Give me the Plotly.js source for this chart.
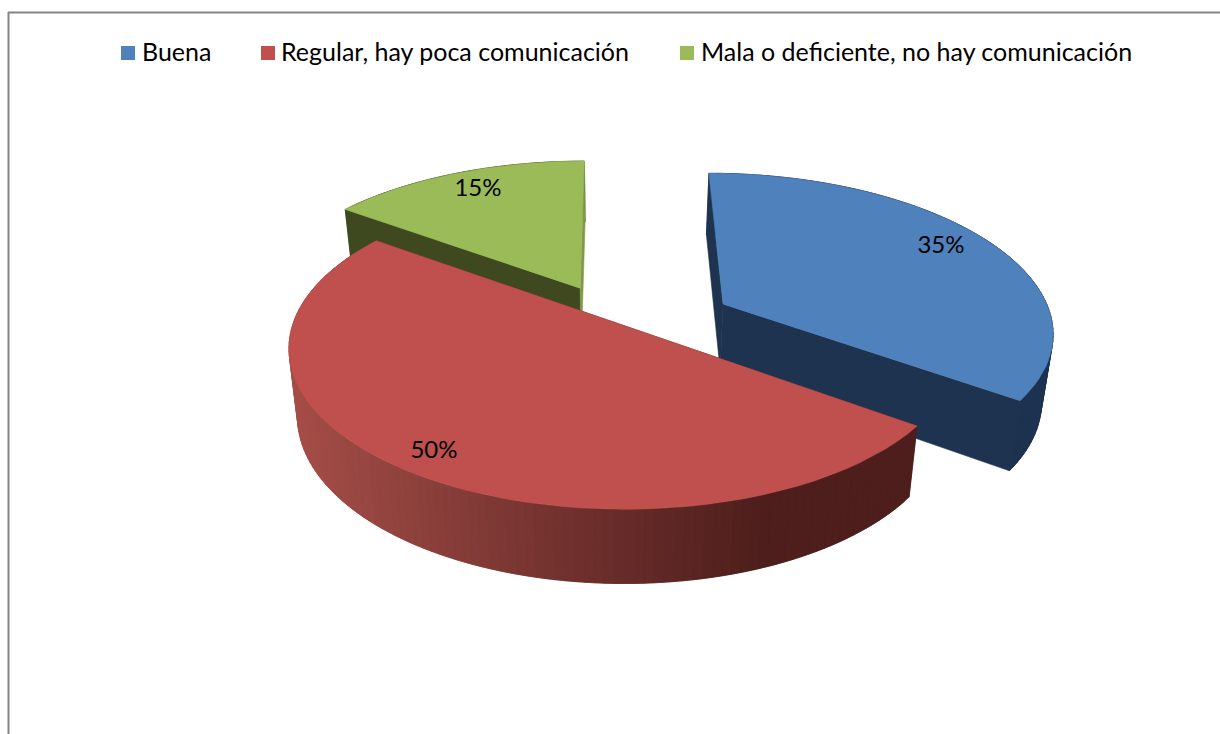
<!DOCTYPE html>
<html><head><meta charset="utf-8">
<script src="https://cdn.plot.ly/plotly-3.0.1.min.js"></script>
<style>html,body{margin:0;padding:0;background:#fff}#c{width:1220px;height:734px}</style>
</head><body><div id="c"></div>
<script>
// --- data ---
var categories = ['Buena', 'Regular, hay poca comunicación', 'Mala o deficiente, no hay comunicación'];
var values = [35, 50, 15];
var colors = ['#4f81bd', '#c0504d', '#9bbb59'];
var sideColors = ['#1d3350', '#4d1e1c', '#3f4920'];
// --- style / camera of the fake 3D pie ---
var sliceOffsetX = [0.34, 0.03, -0.103];
var sliceOffsetY = [0.13, -0.008, 0.238];
var cam = {cx: 613, cy: 324, sx: 330, sy: 156, sz: 69, k: 0.15, m: 0.027};
var labelX = [941, 434, 478], labelY = [247, 452, 190];
var swatchX = [128, 268, 687], swatchY = 53;
var legendTextX = [142, 281, 701], legendTextY = 55;
var FONT = 'Lato, Carlito, Calibri, sans-serif';

function project(x, y, z) {
  var w = (1 + cam.k * y) * (1 - cam.m * z);
  return [cam.cx + cam.sx * x / w, cam.cy - (cam.sy * y + cam.sz * z) / w];
}
function poly(pts, color, lw) {
  var xs = [], ys = [];
  pts.forEach(function (p) { xs.push(p[0]); ys.push(p[1]); });
  xs.push(pts[0][0]); ys.push(pts[0][1]);
  return {type: 'scatter', mode: 'lines', x: xs, y: ys, fill: 'toself', fillcolor: color,
    line: {color: color, width: lw === undefined ? 0.6 : lw},
    hoverinfo: 'skip', showlegend: false};
}
function mix(a, b, t) {
  var c = a.map(function (v, i) { return Math.round(v + (b[i] - v) * t); });
  return 'rgb(' + c.join(',') + ')';
}
var total = values.reduce(function (a, b) { return a + b; }, 0);
var starts = [], acc = 0;
values.forEach(function (v) { starts.push(acc / total * 360); acc += v; });

function pt(i, deg, z, r) {
  var a = deg * Math.PI / 180, rr = r === undefined ? 1 : r;
  return project(sliceOffsetX[i] + rr * Math.sin(a), sliceOffsetY[i] + rr * Math.cos(a), z);
}
function sliceTraces(i) {
  var a0 = starts[i], a1 = a0 + values[i] / total * 360, out = [];
  // rim: every band overlaps the previous one so no seams show
  var step = 1.5, n = Math.round((a1 - a0) / step);
  for (var s = n - 1; s >= 0; s--) {
    var b0 = a0 + (a1 - a0) * s / n, b1 = a0 + (a1 - a0) * (s + 1) / n;
    var col = sideColors[i];
    if (i === 1) {
      var px = pt(i, b0, 0)[0];
      var t = Math.max(0, Math.min(1, (px - 290) / (780 - 290)));
      col = mix([166, 78, 72], [77, 30, 28], t);
    }
    var hi = Math.min(a1, b1 + step);
    out.push(poly([pt(i, b0, 0), pt(i, hi, 0), pt(i, hi, -1), pt(i, b0, -1)], col, 0.6));
  }
  // radial faces
  out.push(poly([pt(i, a0, 0, 0), pt(i, a0, 0), pt(i, a0, -1), pt(i, a0, -1, 0)], sideColors[i]));
  out.push(poly([pt(i, a1, 0, 0), pt(i, a1, 0), pt(i, a1, -1), pt(i, a1, -1, 0)], i === 2 ? '#7f9a48' : sideColors[i]));
  // top surface
  var top = [pt(i, a0, 0, 0)];
  for (var d = 0; d <= 60; d++) top.push(pt(i, a0 + (a1 - a0) * d / 60, 0));
  out.push(poly(top, colors[i]));
  return out;
}
var traces = [];
[2, 0, 1].forEach(function (i) { traces = traces.concat(sliceTraces(i)); });

// percentage labels
traces.push({type: 'scatter', mode: 'text', x: labelX, y: labelY,
  text: values.map(function (v) { return v + '%'; }), textposition: 'middle center',
  textfont: {family: FONT, size: 24, color: '#000'}, hoverinfo: 'skip', showlegend: false});
// legend entries
categories.forEach(function (c, i) {
  traces.push({type: 'scatter', mode: 'markers', x: [swatchX[i]], y: [swatchY],
    marker: {symbol: 'square', size: 14, color: colors[i]}, hoverinfo: 'skip', showlegend: false, cliponaxis: false});
  traces.push({type: 'scatter', mode: 'text', x: [legendTextX[i]], y: [legendTextY], text: [c],
    textposition: 'middle right',
    textfont: {family: FONT, size: 25, color: '#000'}, hoverinfo: 'skip', showlegend: false, cliponaxis: false});
});

var layout = {
  width: 1220, height: 734, margin: {l: 0, r: 0, t: 0, b: 0},
  paper_bgcolor: '#fff', plot_bgcolor: '#fff', showlegend: false,
  xaxis: {range: [0, 1220], visible: false, fixedrange: true},
  yaxis: {range: [734, 0], visible: false, fixedrange: true},
  shapes: [
    {type: 'line', xref: 'x', yref: 'y', x0: 8.5, x1: 8.5, y0: 12, y1: 734, line: {color: '#868686', width: 2}},
    {type: 'line', xref: 'x', yref: 'y', x0: 8, x1: 1220, y0: 12.5, y1: 12.5, line: {color: '#868686', width: 2}}
  ]
};
Plotly.newPlot('c', traces, layout, {staticPlot: true, displayModeBar: false});
</script></body></html>
